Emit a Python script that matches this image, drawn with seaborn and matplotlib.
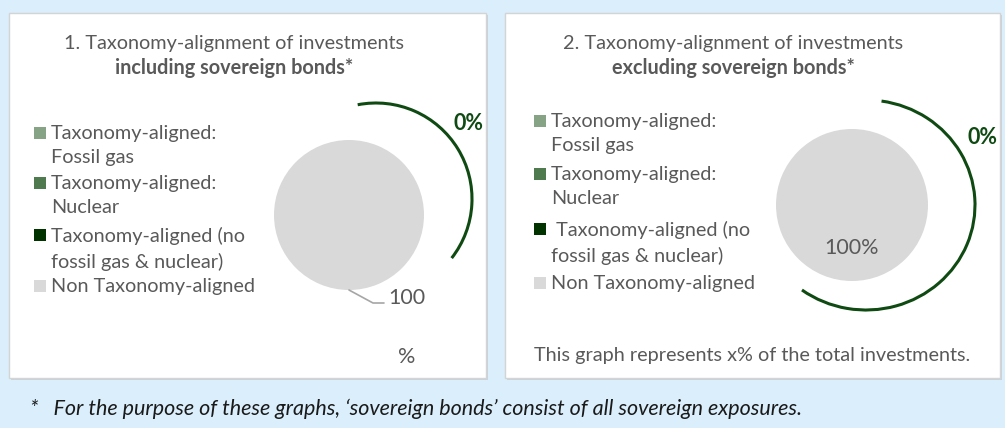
import numpy as np
import pandas as pd
import matplotlib.pyplot as plt
import seaborn as sns
from matplotlib.patches import Rectangle, Arc

###################################
# Data
###################################
categories = ["Taxonomy-aligned:\nFossil gas",
              "Taxonomy-aligned:\nNuclear",
              "Taxonomy-aligned (no\nfossil gas & nuclear)",
              "Non Taxonomy-aligned"]
incl_values = [0, 0, 0, 100]
excl_values = [0, 0, 0, 100]
aligned_incl = 0
aligned_excl = 0
palette = ["#86A386", "#4F7A4F", "#003300", "#D9D9D9"]

titles = ["1. Taxonomy-alignment of investments",
          "2. Taxonomy-alignment of investments"]
subtitles = ["including sovereign bonds*", "excluding sovereign bonds*"]
footnote = "*   For the purpose of these graphs, \u2018sovereign bonds\u2019 consist of all sovereign exposures."

###################################
# Style
###################################
sns.set_theme(style="white")
plt.rcParams['font.family'] = ['Lato', 'DejaVu Sans']
GREY = "#595959"
ARC = "#0E4A12"
FS = 14.3
FL = 15.5

fig = plt.figure(figsize=(10.05, 4.28), dpi=100)
fig.patch.set_facecolor("#DAEEFB")
ax = fig.add_axes([0, 0, 1, 1])

# panels
for x0, x1 in [(9, 486), (505, 1000)]:
    ax.add_patch(Rectangle((x0 + 1.5, 14.5), x1 - x0, 365, facecolor="#C9D3DA",
                           edgecolor="none", zorder=0))
    ax.add_patch(Rectangle((x0, 13), x1 - x0, 365, facecolor="white",
                           edgecolor="#D4D4D4", lw=1, zorder=1))

# pies
ax.pie(excl_values, colors=palette, center=(852, 205), radius=76,
       startangle=-90, counterclock=True,
       autopct=lambda p: f"{p:.0f}%" if p > 0 else "",
       pctdistance=0.57,
       textprops=dict(color=GREY, fontsize=FL),
       wedgeprops=dict(linewidth=0))
ax.pie(incl_values, colors=palette, center=(349, 215), radius=75,
       startangle=-90, wedgeprops=dict(linewidth=0))

# outer arcs for aligned share
ax.add_patch(Arc((376, 199), 192, 192, theta1=-101, theta2=38,
                 color=ARC, lw=2.2, zorder=3))
ax.add_patch(Arc((866, 205), 218, 210, theta1=-81.5, theta2=127,
                 color=ARC, lw=2.2, zorder=3))
ax.text(468, 123, f"{aligned_incl}%", color=ARC, fontsize=FL,
        fontweight="bold", ha="center", va="center")
ax.text(982, 137, f"{aligned_excl}%", color=ARC, fontsize=FL,
        fontweight="bold", ha="center", va="center")

# left pie label with leader line
ax.plot([349, 373, 384], [290, 303, 303], color="#A6A6A6", lw=1.2)
ax.text(407, 298, f"{incl_values[3]}", color=GREY, fontsize=FL,
        ha="center", va="center")
ax.text(407, 357, "%", color=GREY, fontsize=FL, ha="center", va="center")

# titles
for cx, t, s in [(234, titles[0], subtitles[0]), (733, titles[1], subtitles[1])]:
    ax.text(cx, 43, t, color=GREY, fontsize=FS, ha="center", va="center")
    ax.text(cx, 68, s, color=GREY, fontsize=FS, fontweight="bold",
            ha="center", va="center")

# legends
for lx, rows in [(34, [133, 183, 235, 286]), (534, [121, 174, 229, 283])]:
    for i, (lab, col, ry) in enumerate(zip(categories, palette, rows)):
        ax.add_patch(Rectangle((lx, ry - 6), 12, 12, facecolor=col,
                               edgecolor="none", zorder=2))
        lab_txt = (" " + lab) if (lx > 500 and i == 2) else lab
        ax.text(lx + 17, ry - 8, lab_txt, color=GREY, fontsize=FS,
                ha="left", va="top", linespacing=1.5)

ax.text(752, 356, "This graph represents x% of the total investments.",
        color=GREY, fontsize=FS, ha="center", va="center")

ax.text(30, 409, footnote, color="#1A1A1A", fontsize=FL, style="italic",
        ha="left", va="center")

ax.set_xlim(0, 1005)
ax.set_ylim(428, 0)
ax.set_aspect("auto")
ax.axis("off")

fig.savefig("out.png", dpi=100, facecolor=fig.get_facecolor())
